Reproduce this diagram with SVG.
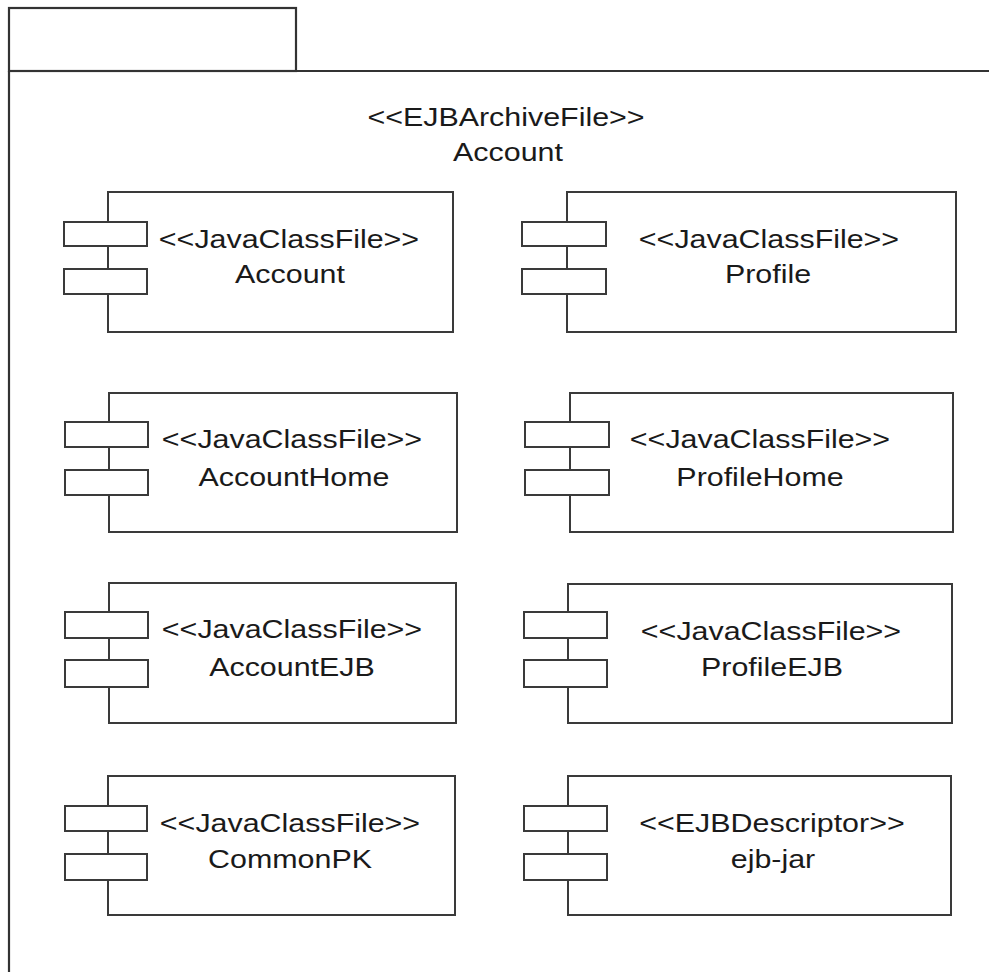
<svg xmlns="http://www.w3.org/2000/svg" width="989" height="972" viewBox="0 0 989 972">
<style>
.f{fill:#fff;stroke:#3a3a3a;stroke-width:2}
.ln{fill:none;stroke:#333;stroke-width:2.2}
text{font-family:"Liberation Sans",Arial,Helvetica,sans-serif;font-size:26px;fill:#1a1a1a;text-anchor:middle}
</style>
<rect width="989" height="972" fill="#fff"/>
<g id="package">
<rect class="ln" x="9" y="8" width="287" height="63"/>
<path class="ln" d="M9 71 H992 M9 71 V975"/>
<text transform="translate(506,126) scale(1.17,1)">&lt;&lt;EJBArchiveFile&gt;&gt;</text>
<text transform="translate(508,161) scale(1.17,1)">Account</text>
</g>
<g id="Account">
<rect class="f" x="108" y="192" width="345" height="140"/>
<rect class="f" x="64" y="222" width="83" height="24"/>
<rect class="f" x="64" y="269" width="83" height="25"/>
<text transform="translate(289,248) scale(1.17,1)">&lt;&lt;JavaClassFile&gt;&gt;</text>
<text transform="translate(290,283) scale(1.17,1)">Account</text>
</g>
<g id="Profile">
<rect class="f" x="567" y="192" width="389" height="140"/>
<rect class="f" x="522" y="222" width="84" height="24"/>
<rect class="f" x="522" y="269" width="84" height="25"/>
<text transform="translate(769,248) scale(1.17,1)">&lt;&lt;JavaClassFile&gt;&gt;</text>
<text transform="translate(768,283) scale(1.17,1)">Profile</text>
</g>
<g id="AccountHome">
<rect class="f" x="109" y="393" width="348" height="139"/>
<rect class="f" x="65" y="422" width="83" height="25"/>
<rect class="f" x="65" y="470" width="83" height="25"/>
<text transform="translate(292,448) scale(1.17,1)">&lt;&lt;JavaClassFile&gt;&gt;</text>
<text transform="translate(294,486) scale(1.17,1)">AccountHome</text>
</g>
<g id="ProfileHome">
<rect class="f" x="570" y="393" width="383" height="139"/>
<rect class="f" x="525" y="422" width="84" height="25"/>
<rect class="f" x="525" y="470" width="84" height="25"/>
<text transform="translate(760,448) scale(1.17,1)">&lt;&lt;JavaClassFile&gt;&gt;</text>
<text transform="translate(760,486) scale(1.17,1)">ProfileHome</text>
</g>
<g id="AccountEJB">
<rect class="f" x="109" y="583" width="347" height="140"/>
<rect class="f" x="65" y="612" width="83" height="26"/>
<rect class="f" x="65" y="660" width="83" height="27"/>
<text transform="translate(292,638) scale(1.17,1)">&lt;&lt;JavaClassFile&gt;&gt;</text>
<text transform="translate(292,676) scale(1.17,1)">AccountEJB</text>
</g>
<g id="ProfileEJB">
<rect class="f" x="568" y="584" width="384" height="139"/>
<rect class="f" x="524" y="612" width="83" height="26"/>
<rect class="f" x="524" y="660" width="83" height="27"/>
<text transform="translate(771,640) scale(1.17,1)">&lt;&lt;JavaClassFile&gt;&gt;</text>
<text transform="translate(772,676) scale(1.17,1)">ProfileEJB</text>
</g>
<g id="CommonPK">
<rect class="f" x="108" y="776" width="347" height="139"/>
<rect class="f" x="65" y="806" width="82" height="25"/>
<rect class="f" x="65" y="854" width="82" height="26"/>
<text transform="translate(290,832) scale(1.17,1)">&lt;&lt;JavaClassFile&gt;&gt;</text>
<text transform="translate(290,868) scale(1.17,1)">CommonPK</text>
</g>
<g id="ejb-jar">
<rect class="f" x="568" y="776" width="383" height="139"/>
<rect class="f" x="524" y="806" width="83" height="25"/>
<rect class="f" x="524" y="854" width="83" height="26"/>
<text transform="translate(772,832) scale(1.17,1)">&lt;&lt;EJBDescriptor&gt;&gt;</text>
<text transform="translate(773,868) scale(1.17,1)">ejb-jar</text>
</g>
<g id="connectors"></g>
</svg>
